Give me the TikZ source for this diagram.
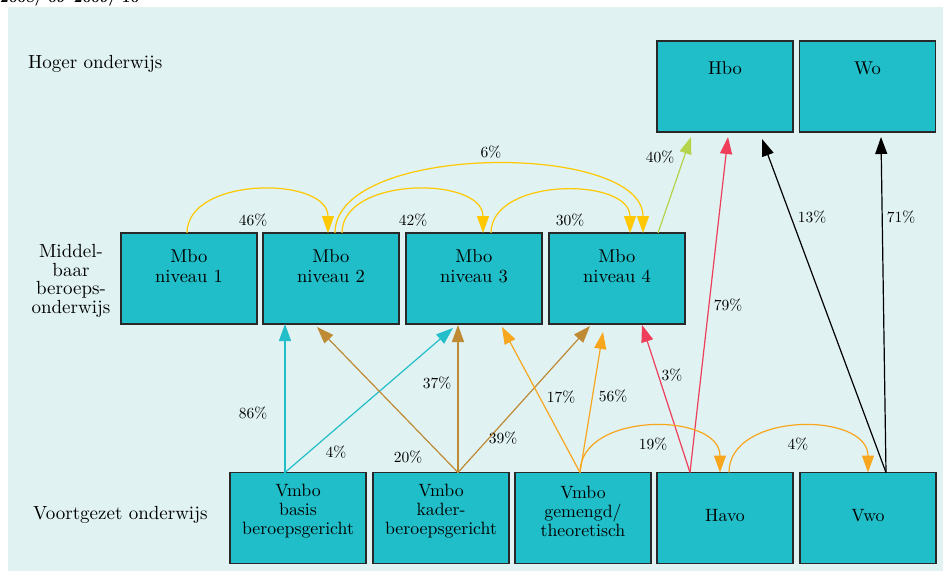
\documentclass[tikz,border=0pt]{standalone}
\usepackage{fontspec}
\setmainfont{lmroman10-regular}[Extension=.otf,BoldFont=lmroman10-bold]
\usetikzlibrary{arrows.meta,calc}
\definecolor{bgc}{RGB}{224,242,242}
\definecolor{boxc}{RGB}{32,190,200}
\definecolor{edgec}{RGB}{40,40,40}
\definecolor{yel}{RGB}{255,200,0}
\definecolor{grn}{RGB}{180,212,75}
\definecolor{redc}{RGB}{238,62,90}
\definecolor{brn}{RGB}{190,138,52}
\definecolor{org}{RGB}{248,166,30}
\definecolor{cyn}{RGB}{34,190,202}
\begin{document}
\begin{tikzpicture}[x=1pt,y=-1pt,
  box/.style={draw=edgec,fill=boxc,line width=1.3pt,minimum width=136pt,minimum height=91pt,inner sep=0pt,outer sep=0pt},
  boxtext/.style={align=center,font=\fontsize{18.5}{20}\selectfont,inner sep=0pt},
  boxtextb/.style={align=center,font=\fontsize{17.8}{19}\selectfont,inner sep=0pt},
  lbl/.style={font=\fontsize{15.5}{17}\selectfont,inner sep=0pt},
  side/.style={font=\fontsize{19}{18.5}\selectfont,inner sep=0pt},
  flow/.style={line width=1.2pt,-{Triangle[length=17pt,width=12pt]}},
]
\useasboundingbox (0,0) rectangle (943,575);
\begin{scope}
\clip (0,0) rectangle (943,575);
\fill[bgc] (8,7) rectangle (943,571);
\node[anchor=base west,font=\bfseries\fontsize{15}{15}\selectfont,inner sep=0pt] (date) at (0,3) {2008/'09--2009/'10};
\end{scope}

% side labels
\node[side,anchor=west] (hoger) at (28,64) {Hoger onderwijs};
\node[side,align=center] (mbo) at (71,281) {Middel-\\baar\\beroeps-\\onderwijs};
\node[side,anchor=west] (vo) at (33,515) {Voortgezet onderwijs};

% boxes
\node[box] (hbo) at (725,86.5) {};
\node[box] (wo) at (867.5,86.5) {};
\node[box] (m1) at (189,278.5) {};
\node[box] (m2) at (331,278.5) {};
\node[box] (m3) at (474,278.5) {};
\node[box] (m4) at (617,278.5) {};
\node[box] (vb) at (298,518) {};
\node[box] (vk) at (441,518) {};
\node[box] (vg) at (583,518) {};
\node[box] (havo) at (725,518) {};
\node[box] (vwo) at (868,518) {};

% box texts
\node[boxtext] (hbot) at (725,68) {Hbo};
\node[boxtext] (wot) at (867.5,68) {Wo};
\node[boxtext] (m1t) at (189,266) {Mbo\\niveau 1};
\node[boxtext] (m2t) at (331,266) {Mbo\\niveau 2};
\node[boxtext] (m3t) at (474,266) {Mbo\\niveau 3};
\node[boxtext] (m4t) at (617,266) {Mbo\\niveau 4};
\node[boxtextb] (vbt) at (298,511) {Vmbo\\basis\\beroepsgericht};
\node[boxtextb] (vkt) at (441,511) {Vmbo\\kader-\\beroepsgericht};
\node[boxtextb] (vgt) at (583,511) {Vmbo\\gemengd/\\theoretisch};
\node[boxtextb] (havot) at (725,516) {Havo};
\node[boxtextb] (vwot) at (868,516) {Vwo};

% connectors
\draw[flow,yel] ($(m1.north)+(-2,0)$) .. controls +(0,-57) and +(0,-57) .. ($(m2.north)+(-3,0)$);
\draw[flow,yel] ($(m2.north)+(11,0)$) .. controls +(0,-57) and +(0,-57) .. ($(m3.north)+(9,0)$);
\draw[flow,yel] ($(m2.north)+(4,0)$) .. controls +(0,-91) and +(0,-91) .. ($(m4.north)+(26,0)$);
\draw[flow,yel] ($(m3.north)+(17,0)$) .. controls +(0,-56) and +(0,-56) .. ($(m4.north)+(13,0)$);
\draw[flow,grn] ($(m4.north)+(41,0)$) -- ($(hbo.south)+(-34,5)$);
\draw[flow,redc] ($(havo.north)+(-35,0)$) -- ($(hbo.south)+(3,5)$);
\draw[flow,black] ($(vwo.north)+(18,0)$) -- ($(hbo.south)+(37,7)$);
\draw[flow,black] ($(vwo.north)+(18,0)$) -- ($(wo.south)+(13.5,5)$);
\draw[flow,redc] ($(havo.north)+(-35,0)$) -- ($(m4.south)+(25,1)$);
\draw[flow,org] ($(vg.north)+(-3,0)$) .. controls +(0,-61) and +(0,-61) .. ($(havo.north)+(-5,0)$);
\draw[flow,org] ($(havo.north)+(4,0)$) .. controls +(0,-61) and +(0,-61) .. (vwo.north);
\draw[flow,cyn] ($(vb.north)+(-13,0)$) -- ($(m2.south)+(-46,0)$);
\draw[flow,cyn] ($(vb.north)+(-13,0)$) -- ($(m3.south)+(-21,4)$);
\draw[flow,brn] ($(vk.north)+(17,0)$) -- ($(m2.south)+(-14,3)$);
\draw[flow,brn] ($(vk.north)+(17,0)$) -- ($(m3.south)+(-16,1)$);
\draw[flow,brn] ($(vk.north)+(17,0)$) -- ($(m4.south)+(-27,2)$);
\draw[flow,org] ($(vg.north)+(-3,0)$) -- ($(m3.south)+(28,3)$);
\draw[flow,org] ($(vg.north)+(-3,0)$) -- ($(m4.south)+(-14,8)$);

% percentage labels
\node[lbl] (p46) at (253,220) {46\%};
\node[lbl] (p42) at (413,220) {42\%};
\node[lbl] (p6) at (491,152) {6\%};
\node[lbl] (p30) at (570,220) {30\%};
\node[lbl] (p40) at (660,157) {40\%};
\node[lbl] (p79) at (728,305) {79\%};
\node[lbl] (p13) at (812,217) {13\%};
\node[lbl] (p71) at (901,217) {71\%};
\node[lbl] (p3) at (672,375) {3\%};
\node[lbl] (p19) at (653,444) {19\%};
\node[lbl] (p4b) at (798,444) {4\%};
\node[lbl] (p86) at (253,413) {86\%};
\node[lbl] (p4a) at (336,452) {4\%};
\node[lbl] (p20) at (408,457) {20\%};
\node[lbl] (p37) at (437,383) {37\%};
\node[lbl] (p39) at (503,438) {39\%};
\node[lbl] (p17) at (561,397) {17\%};
\node[lbl] (p56) at (613,396) {56\%};
\end{tikzpicture}
\end{document}
